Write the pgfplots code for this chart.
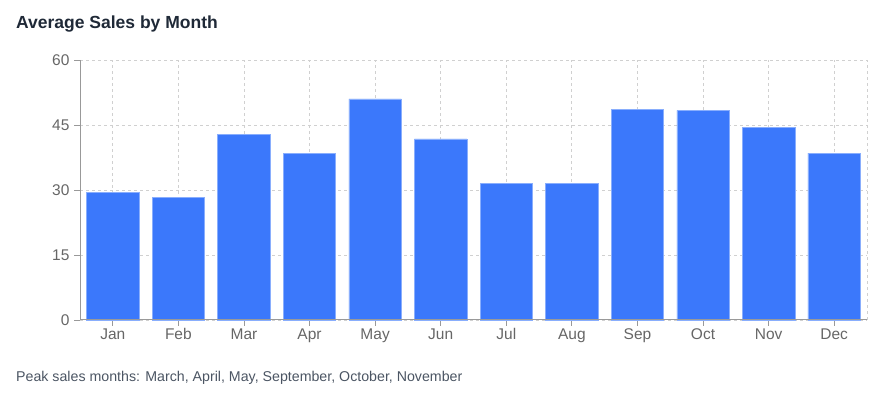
\documentclass[border=0pt]{standalone}
\usepackage{pgfplots}
\pgfplotsset{compat=1.18}
\usepackage{fontspec}
\setmainfont{Liberation Sans}
\definecolor{barblue}{HTML}{3B78FB}
\definecolor{titlecol}{HTML}{1F2937}
\definecolor{notecol}{HTML}{4B5563}
\definecolor{tickcol}{HTML}{666666}
\definecolor{gridcol}{HTML}{D0D0D0}
\definecolor{axcol}{HTML}{999999}
\begin{document}
\begin{tikzpicture}[x=1pt,y=1pt]
\path[use as bounding box] (0,0) rectangle (889,395);
\node[anchor=base west, font=\fontsize{17.5}{19}\selectfont\bfseries, text=titlecol, inner sep=0pt] at (16,366) {Average Sales by Month};
\node[anchor=base west, font=\fontsize{14.2}{16}\selectfont, text=notecol, inner sep=0pt] at (16,13) {Peak sales months: March, April, May, September, October, November};
\begin{axis}[
  at={(80pt,75pt)}, anchor=south west,
  scale only axis, width=787pt, height=260pt,
  xmin=-0.5, xmax=11.5, ymin=0, ymax=60,
  axis lines=left, axis line style={axcol, line width=1pt, -},
  xtick={0,...,11},
  xticklabels={Jan,Feb,Mar,Apr,May,Jun,Jul,Aug,Sep,Oct,Nov,Dec},
  ytick={0,15,30,45,60},
  tick style={axcol, line width=0.8pt},
  tick align=outside, major tick length=6pt,
  ticklabel style={font=\fontsize{15.5}{17}\selectfont, text=tickcol},
  /pgf/number format/assume math mode=true,
  xmajorgrids, ymajorgrids,
  grid style={gridcol, dash pattern=on 3pt off 3pt, line width=0.8pt},
  xticklabel style={text height=11pt, text depth=0pt, inner sep=2pt},
  yticklabel style={xshift=-1pt},
  clip=false,
]
\draw[gridcol, dash pattern=on 3pt off 3pt, line width=0.8pt] (rel axis cs:1,0) -- (rel axis cs:1,1);
\addplot[ybar, bar width=0.8, fill=barblue, draw=barblue!60!white, line width=0.6pt] coordinates {
(0,29.5) (1,28.2) (2,42.9) (3,38.5) (4,51.0) (5,41.8)
(6,31.6) (7,31.6) (8,48.6) (9,48.4) (10,44.5) (11,38.5)
};
\draw[axcol, line width=1pt] (rel axis cs:0,0) -- (rel axis cs:1,0);
\draw[axcol, line width=1pt] (rel axis cs:0,0) -- (rel axis cs:0,1);
\end{axis}
\end{tikzpicture}
\end{document}
